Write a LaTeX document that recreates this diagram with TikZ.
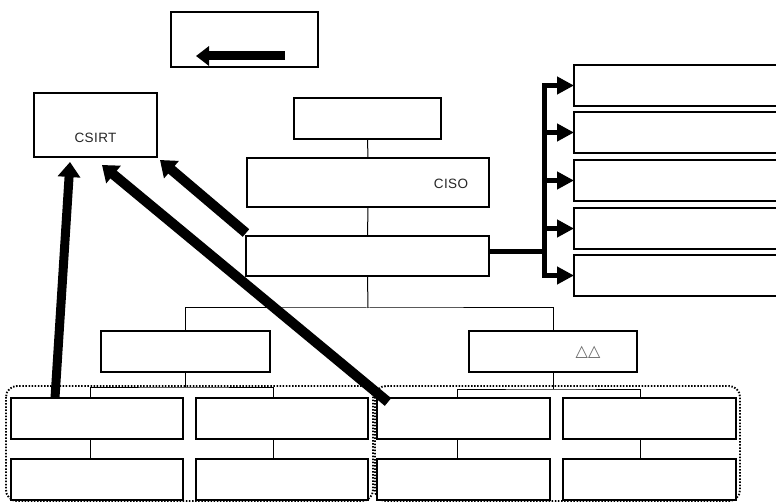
\documentclass[tikz,border=0pt]{standalone}
\usepackage{fontspec}
\setmainfont{Liberation Sans}
\newfontfamily\symfont{DejaVu Sans}
\newfontfamily\spacedfont[LetterSpace=3]{Liberation Sans}
\usetikzlibrary{arrows.meta}
\tikzset{
  box/.style={draw=black, line width=1.6pt, fill=white, inner sep=0pt, outer sep=0pt},
  conn/.style={draw=black, line width=1pt},
  grp/.style={draw=black, line width=1.9pt, dash pattern=on 1.5pt off 1.6pt, rounded corners=11pt},
  bigarrow/.style={draw=black, line width=9pt, -{Triangle[length=15pt,width=22pt]}},
  brk/.style={draw=black, line width=5pt},
  brkarrow/.style={draw=black, line width=5pt, -{Triangle[length=17pt,width=17pt]}},
  lbl/.style={font=\spacedfont\fontsize{13.5}{15}\selectfont, inner sep=0pt, text=black!85}
}
\newcommand{\bx}[5]{\node[box,minimum width={(#4-#2)*1pt},minimum height={(#5-#3)*1pt}] (#1) at ({(#2+#4)/2},{(#3+#5)/2}) {};}
\begin{document}
\begin{tikzpicture}[x=1pt,y=-1pt]
\useasboundingbox (0,0) rectangle (776,502);
\clip (0,0) rectangle (776,502);
% groups
\draw[grp] (6,386) rectangle (373,501);
\draw[grp] (375,386) rectangle (740,501);
% boxes
\bx{top}{171}{12}{318}{67}
\bx{csirt}{34}{93}{157}{157}
\bx{a}{294}{98}{441}{139}
\bx{ciso}{247}{158}{489}{207}
\bx{c}{246}{236}{489}{276}
\bx{r1}{574}{65}{790}{106}
\bx{r2}{574}{112}{790}{153}
\bx{r3}{574}{160}{790}{201}
\bx{r4}{574}{208}{790}{249}
\bx{r5}{574}{255}{790}{296}
\bx{l2}{101}{331}{270}{372}
\bx{rr2}{469}{331}{637}{372}
\bx{b11}{11}{398}{183}{439}
\bx{b12}{196}{398}{368}{439}
\bx{b21}{11}{459}{183}{500}
\bx{b22}{196}{459}{368}{500}
\bx{b13}{377}{398}{550}{439}
\bx{b14}{563}{398}{736}{439}
\bx{b23}{377}{459}{550}{500}
\bx{b24}{563}{459}{736}{500}
% labels
\node[lbl] (csirtt) at (95.5,138) {CSIRT};
\node[lbl] (cisot) at (451,183.5) {CISO};
\node[lbl, font=\symfont\fontsize{16}{18}\selectfont, text=black!60] (tri) at (588,352) {△△};
% thin connectors
\draw[conn] (a.south) -- (ciso.north);
\draw[conn] (ciso.south) -- (c.north);
\coordinate (bus1) at (368,308);
\draw[conn] (c.south) -- (bus1);
\draw[conn] (l2.north) |- (bus1) -| (rr2.north);
\coordinate (lbus) at (185.5,387);
\draw[conn] (l2.south) -- (lbus);
\draw[conn] ([xshift=-7pt]b11.north) |- (lbus) -| ([xshift=-9pt]b12.north);
\draw[conn] ([xshift=-7pt]b11.south) -- ([xshift=-7pt]b21.north);
\draw[conn] ([xshift=-9pt]b12.south) -- ([xshift=-9pt]b22.north);
\coordinate (rbus) at (553,389);
\draw[conn] (rr2.south) -- (rbus);
\draw[conn] ([xshift=-6.5pt]b13.north) |- (rbus) -| ([xshift=-9.5pt]b14.north);
\draw[conn] ([xshift=-6.5pt]b13.south) -- ([xshift=-6.5pt]b23.north);
\draw[conn] ([xshift=-9.5pt]b14.south) -- ([xshift=-9.5pt]b24.north);
% bracket to right boxes
\coordinate (jn) at (544,252);
\coordinate (jtop) at (544,85.5);
\coordinate (jbot) at (544,275.5);
\draw[brk] ([xshift=0.8pt]c.east |- jn) -- (jn);
\draw[brk, line cap=rect] (jtop) -- (jbot);
\foreach \r in {r1,r2,r3,r4,r5}{
  \draw[brkarrow] (jtop |- \r.west) -- (\r.west);
}
% arrow in top box
\coordinate (ta1) at (285,56);
\coordinate (ta2) at (196,56);
\draw[draw=black, line width=9pt, -{Triangle[length=13pt,width=19pt]}] (ta1) -- (ta2);
% big arrows to CSIRT
\draw[bigarrow] ([xshift=-42pt]b11.north) -- ([xshift=-25.5pt,yshift=-5pt]csirt.south);
\draw[bigarrow, line width=10pt] ([xshift=11pt,yshift=-4pt]b13.north west) -- ([xshift=6.5pt,yshift=-8pt]csirt.south);
\draw[bigarrow, line width=10pt] ([yshift=3pt]c.north west) -- ([xshift=3pt,yshift=-3pt]csirt.south east);
\end{tikzpicture}
\end{document}
